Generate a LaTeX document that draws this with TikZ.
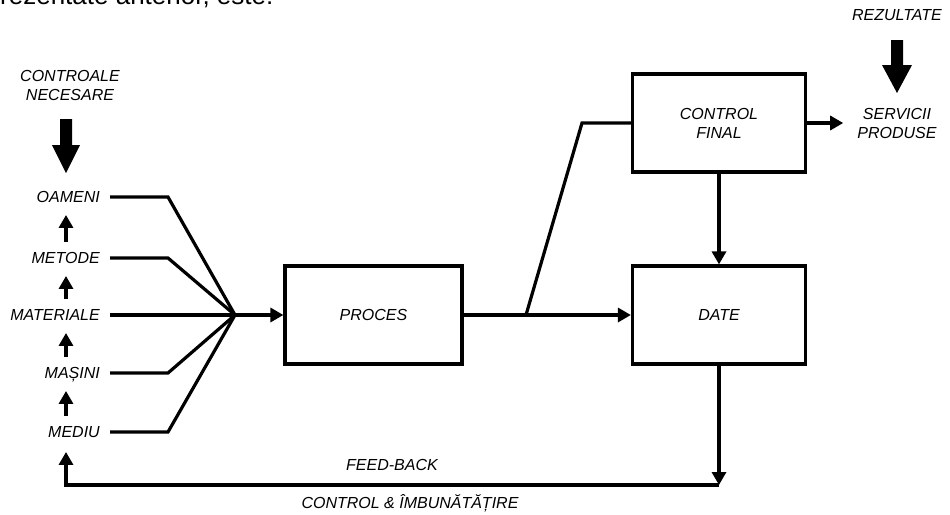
\documentclass[tikz,border=0pt]{standalone}
\usepackage{fontspec}
\setmainfont{Liberation Sans}
\usetikzlibrary{arrows.meta}
\begin{document}
\begin{tikzpicture}[x=1pt,y=-1pt,
  lbl/.style={font=\fontsize{16}{19}\selectfont\itshape, inner sep=0pt, align=center},
  side/.style={lbl, anchor=east, text height=11.5pt, text depth=0pt},
  box/.style={lbl, draw, line width=3.2pt, minimum width=173pt, minimum height=98pt},
  conn/.style={line width=3.2pt},
  arr/.style={conn, -{Triangle[length=13pt,width=14pt]}},
  uparr/.style={arr, shorten >=12pt, shorten <=10pt},
  blockarrow/.style={fill=black}
]
\useasboundingbox (0,0) rectangle (950,514);

% cropped top text
\node[anchor=base west, font=\fontsize{26}{30}\selectfont, inner sep=0pt] (toptext) at (0,4.5) {rezentate anterior, este:};

% headings
\node[lbl] (ctrl) at (70,85) {CONTROALE\\NECESARE};
\node[lbl] (rez) at (897,15) {REZULTATE};

% side labels
\node[side] (oam) at (100,197) {OAMENI};
\node[side] (met) at (100,258) {METODE};
\node[side] (mat) at (100,315) {MATERIALE};
\node[side] (mas) at (100,373) {MAȘINI};
\node[side] (med) at (100,432) {MEDIU};

% boxes
\node[box, minimum width=177pt] (proc) at (373.5,315) {PROCES};
\node[box] (cf) at (719,123) {CONTROL\\FINAL};
\node[box] (date) at (719,315) {DATE};
\node[lbl] (serv) at (897,123) {SERVICII\\PRODUSE};

% bottom labels
\node[lbl] (fb) at (392,465) {FEED-BACK};
\node[lbl] (ci) at (410,503) {CONTROL \& ÎMBUNĂTĂȚIRE};

% helper coordinates
\coordinate (hub) at (235,315);
\coordinate (bx) at (168,0);
\coordinate (ax) at (66,0);
\coordinate (br) at (526,315);
\coordinate (bt) at (582,123);
\coordinate (fbr) at (719,485);
\coordinate (fbl) at (66,485);

% block arrows
\fill[blockarrow] (60,119) -- (72,119) -- (72,145) -- (80,145) -- (66,173) -- (52,145) -- (60,145) -- cycle;
\fill[blockarrow] (891,40) -- (903,40) -- (903,65) -- (912,65) -- (897,93) -- (882,65) -- (891,65) -- cycle;

% small up arrows
\draw[uparr] (met.north -| ax) -- (oam.south -| ax);
\draw[uparr] (mat.north -| ax) -- (met.south -| ax);
\draw[uparr] (mas.north -| ax) -- (mat.south -| ax);
\draw[uparr] (med.north -| ax) -- (mas.south -| ax);

% inputs to hub
\draw[conn, shorten <=10pt] (oam.east) -- (oam.east -| bx) -- (hub);
\draw[conn, shorten <=10pt] (met.east) -- (met.east -| bx) -- (hub);
\draw[conn, shorten <=10pt] (mat.east) -- (hub);
\draw[conn, shorten <=10pt] (mas.east) -- (mas.east -| bx) -- (hub);
\draw[conn, shorten <=10pt] (med.east) -- (med.east -| bx) -- (hub);
\draw[arr] (hub) -- (proc.west);

% process flow
\draw[arr] (proc.east) -- (date.west);
\draw[conn] (br) -- (bt) -- (cf.west);
\draw[arr, shorten >=14pt] (cf.east) -- (serv.west);
\draw[arr] (cf.south) -- (date.north);

% feedback
\draw[arr] (date.south) -- (fbr);
\draw[arr, shorten >=14pt] (fbr) -- (fbl) -- (med.south -| ax);
\end{tikzpicture}
\end{document}
